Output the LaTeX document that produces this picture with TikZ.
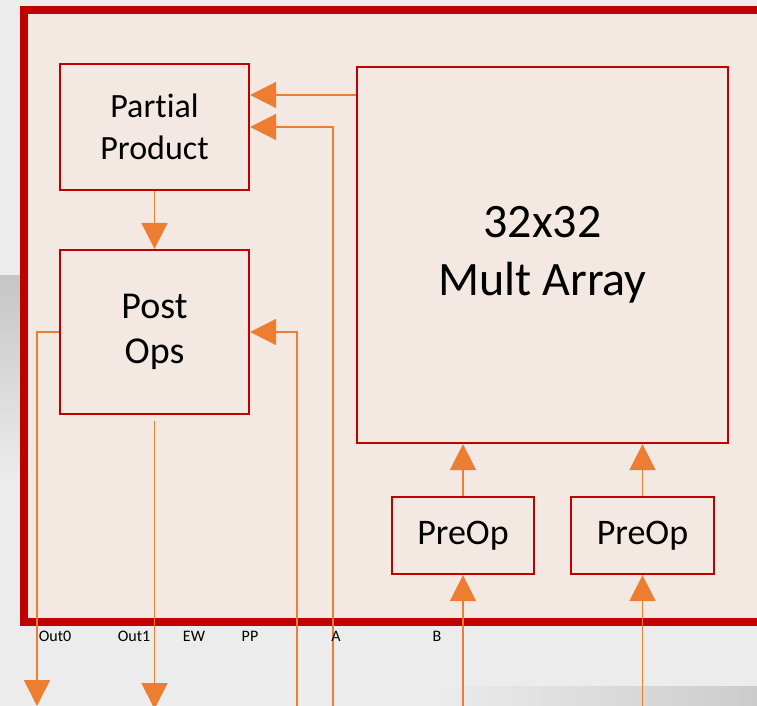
\documentclass[tikz,border=0pt]{standalone}
\usepackage{fontspec}
\setmainfont{Carlito}[Ligatures=NoCommon]
\usetikzlibrary{arrows.meta}
\definecolor{framered}{HTML}{C00000}
\definecolor{floworange}{HTML}{ED7D31}
\definecolor{panelfill}{HTML}{F3E9E2}
\definecolor{backgray}{HTML}{ECECEC}

\begin{document}
\begin{tikzpicture}[
  x=1pt,
  y=-1pt,
  block/.style={draw=framered,line width=2.3pt,inner sep=0pt,align=center},
  flow/.style={draw=floworange,line width=1.8pt,-{Triangle[length=26pt,width=26pt]}},
  pin/.style={font=\fontsize{16}{19}\selectfont,inner sep=0pt}
]
  \useasboundingbox (0,0) rectangle (757,706);

  % Backdrop with the darker bands at the left and bottom right.
  \fill[backgray] (0,0) rectangle (757,706);
  \shade[top color=gray!45,bottom color=backgray] (0,275) rectangle (24,480);
  \shade[left color=backgray,right color=gray!40] (430,686) rectangle (757,706);

  % Unit outline, open to the right.
  \draw[framered,line width=8pt,fill=panelfill] (24,10) rectangle (790,622);

  % Blocks.
  \node[block,minimum width=189,minimum height=126,font=\fontsize{34}{42}\selectfont]
    (pp) at (154.5,127) {Partial\\Product};
  \node[block,minimum width=189,minimum height=164,font=\fontsize{38}{45}\selectfont]
    (post) at (154.5,332) {Post\\Ops};
  \node[block,minimum width=371,minimum height=376,font=\fontsize{48}{58}\selectfont]
    (mult) at (542.5,255) {32x32\\Mult Array};
  \node[block,minimum width=142,minimum height=77,font=\fontsize{36}{42}\selectfont]
    (preA) at (463,535.5) {PreOp};
  \node[block,minimum width=143,minimum height=77,font=\fontsize{36}{42}\selectfont]
    (preB) at (642.5,535.5) {PreOp};

  % Rows and bus ends used by the connectors.
  \coordinate (prodrow) at (0,95);
  \coordinate (pprow) at (0,127);
  \coordinate (busrow) at (0,712);
  \coordinate (ppbus) at (333,712);
  \coordinate (ewbus) at (297,712);
  \coordinate (out0end) at (37,706);
  \coordinate (out1end) at (0,709);

  % Inputs into the blocks.
  \draw[flow] (mult.west |- prodrow) -- (pp.east |- prodrow);
  \draw[flow] (ppbus) |- (pp.east |- pprow);
  \draw[flow] (ewbus) |- (post.east);
  \draw[flow] (pp.south) -- (post.north);
  \draw[flow] (preA.south |- busrow) -- (preA.south);
  \draw[flow] (preB.south |- busrow) -- (preB.south);
  \draw[flow] (preA.north) -- (preA.north |- mult.south);
  \draw[flow] (preB.north) -- (preB.north |- mult.south);

  % Outputs leaving the unit.
  \draw[flow] (post.west) -| (out0end);
  \draw[flow,shorten <=6pt] (post.south) -- (post.south |- out1end);

  % Port names under the outline.
  \node[pin] (out0lbl) at (55,636) {Out0};
  \node[pin] (out1lbl) at (134,636) {Out1};
  \node[pin] (ewlbl) at (194,636) {EW};
  \node[pin] (pplbl) at (250,636) {PP};
  \node[pin] (albl) at (336,636) {A};
  \node[pin] (blbl) at (437,636) {B};
\end{tikzpicture}
\end{document}
